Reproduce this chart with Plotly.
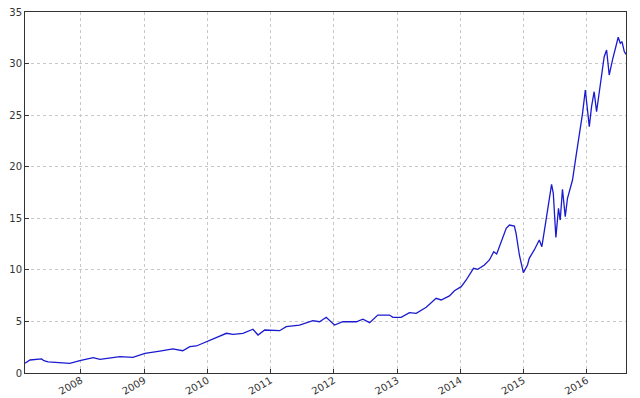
import plotly.graph_objects as go

dates = [
    "2007-02-12", "2007-03-13", "2007-05-19", "2007-06-01", "2007-06-26", "2007-10-29",
    "2007-12-26", "2008-03-12", "2008-04-20", "2008-08-13", "2008-10-27", "2009-01-05",
    "2009-04-01", "2009-06-15", "2009-08-11", "2009-09-21", "2009-10-29", "2009-12-26",
    "2010-01-14", "2010-03-13", "2010-04-21", "2010-05-29", "2010-07-25", "2010-09-21",
    "2010-10-20", "2010-11-28", "2011-02-22", "2011-04-01", "2011-06-17", "2011-09-02",
    "2011-10-11", "2011-11-18", "2012-01-05", "2012-02-22", "2012-05-10", "2012-06-17",
    "2012-07-26", "2012-09-11", "2012-11-18", "2012-12-07", "2013-01-24", "2013-03-13",
    "2013-04-21", "2013-06-18", "2013-08-14", "2013-09-12", "2013-10-30", "2013-11-28",
    "2014-01-06", "2014-02-04", "2014-03-18", "2014-04-12", "2014-05-20", "2014-06-18",
    "2014-07-13", "2014-07-30", "2014-08-25", "2014-09-23", "2014-10-12", "2014-11-09",
    "2014-11-19", "2014-12-08", "2014-12-31", "2015-01-24",
    "2015-02-03", "2015-03-04", "2015-04-02", "2015-04-17", "2015-05-11", "2015-05-30",
    "2015-06-12", "2015-06-22", "2015-07-07", "2015-07-22", "2015-08-01", "2015-08-14",
    "2015-08-30", "2015-09-12", "2015-10-11", "2015-10-31", "2015-11-19", "2015-12-08",
    "2015-12-24", "2016-01-06", "2016-01-16", "2016-01-29", "2016-02-13", "2016-02-27",
    "2016-03-14", "2016-04-11", "2016-04-25", "2016-05-10", "2016-05-29", "2016-06-08",
    "2016-07-01", "2016-07-13", "2016-07-23", "2016-08-05", "2016-08-15",
]

values = [
    0.94, 1.26, 1.36, 1.19, 1.07, 0.94,
    1.19, 1.48, 1.33, 1.58, 1.52, 1.91,
    2.13, 2.33, 2.16, 2.55, 2.62, 3.04,
    3.13, 3.52, 3.85, 3.75, 3.85, 4.24,
    3.68, 4.17, 4.10, 4.49, 4.65, 5.07,
    4.97, 5.40, 4.65, 4.97, 4.97, 5.21,
    4.88, 5.62, 5.62, 5.40, 5.40, 5.85,
    5.79, 6.37, 7.24, 7.08, 7.47, 7.98,
    8.37, 9.02, 10.15, 10.05, 10.47, 10.96,
    11.76, 11.54, 12.73, 14.03, 14.35, 14.25,
    13.54, 11.44, 9.73, 10.47,
    11.12, 11.93, 12.90, 12.25, 14.83, 17.09,
    18.29, 17.42, 13.15, 15.97, 14.83, 17.81,
    15.16, 16.94, 18.71, 20.97, 22.91, 25.18,
    27.44, 25.01, 23.88, 25.82, 27.27, 25.33,
    27.11, 30.67, 31.32, 28.89, 30.35, 31.00,
    32.55, 31.97, 32.13, 31.16, 30.90,
]

x_tick_years = ["2008", "2009", "2010", "2011", "2012", "2013", "2014", "2015", "2016"]
y_ticks = [0, 5, 10, 15, 20, 25, 30, 35]

fig = go.Figure()
fig.add_trace(go.Scatter(
    x=dates, y=values, mode="lines",
    line=dict(color="#1a1ad0", width=1.3),
    showlegend=False,
))

axis_common = dict(
    showline=True, linecolor="#333333", linewidth=1, mirror=True,
    ticks="inside", ticklen=4, tickcolor="#333333",
    showgrid=True, gridcolor="#c8c8c8", griddash="dot", gridwidth=1,
    zeroline=False, automargin=False, ticklabeloverflow="allow",
    tickfont=dict(family="DejaVu Sans", size=10, color="#333333"),
)

fig.update_xaxes(
    type="date",
    range=[dates[0], dates[-1]],
    tickvals=[f"{y}-01-01" for y in x_tick_years],
    ticktext=x_tick_years,
    tickangle=-30,
    ticklabelstandoff=-3,
    **axis_common,
)
fig.update_yaxes(
    range=[0, 35],
    tickvals=y_ticks,
    ticktext=[str(v) for v in y_ticks],
    **axis_common,
)

# page body has an 8px margin; figure is sized so the plot area lands where the reference has it
fig.update_layout(
    width=632, height=390,
    margin=dict(l=17, r=14, t=4, b=25),
    plot_bgcolor="white", paper_bgcolor="white",
)

fig.write_html("out.html")
